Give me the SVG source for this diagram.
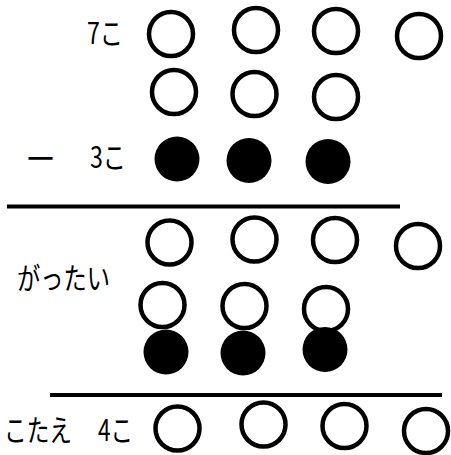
<svg xmlns="http://www.w3.org/2000/svg" width="451" height="455" viewBox="0 0 451 455">
<defs>
<style>
.o{fill:none;stroke:#000;stroke-width:4.5}
.f{fill:#000}
.t{font-family:"Noto Sans CJK JP","Liberation Sans",sans-serif;font-size:30px;fill:#000}
.rule{stroke:#000;stroke-width:4}
</style>
</defs>
<rect width="451" height="455" fill="#fff"/>
<g id="labels">
<text class="t" x="87" y="44" textLength="36" lengthAdjust="spacingAndGlyphs">7こ</text>
<text class="t" x="27" y="167" font-size="28" font-family="Liberation Sans" font-weight="bold" textLength="27" lengthAdjust="spacingAndGlyphs">—</text>
<text class="t" x="90" y="167.5" textLength="36" lengthAdjust="spacingAndGlyphs">3こ</text>
<text class="t" x="17" y="289" textLength="93" lengthAdjust="spacingAndGlyphs">がったい</text>
<text class="t" x="4" y="441" textLength="68" lengthAdjust="spacingAndGlyphs">こたえ</text>
<text class="t" x="98" y="441" textLength="35" lengthAdjust="spacingAndGlyphs">4こ</text>
</g>
<g id="row-7">
<circle class="o" cx="171" cy="34" r="22"/>
<circle class="o" cx="256" cy="30" r="22"/>
<circle class="o" cx="336" cy="31" r="22"/>
<circle class="o" cx="419" cy="36" r="22"/>
<circle class="o" cx="174" cy="92" r="22"/>
<circle class="o" cx="254.5" cy="94" r="22"/>
<circle class="o" cx="336" cy="97" r="22"/>
</g>
<g id="row-3">
<circle class="f" cx="177" cy="159" r="22.5"/>
<circle class="f" cx="249" cy="160.5" r="22.5"/>
<circle class="f" cx="328" cy="161.5" r="22.5"/>
</g>
<g id="rules">
<line class="rule" x1="7" y1="206.5" x2="400" y2="206.5"/>
<line class="rule" x1="50" y1="395" x2="442" y2="395"/>
</g>
<g id="combined">
<circle class="o" cx="169.5" cy="242.5" r="22"/>
<circle class="o" cx="254.5" cy="239.5" r="22"/>
<circle class="o" cx="335" cy="240" r="22"/>
<circle class="o" cx="418" cy="246" r="22"/>
<circle class="o" cx="162.5" cy="305" r="22"/>
<circle class="o" cx="244.5" cy="306" r="22"/>
<circle class="o" cx="326" cy="309" r="22"/>
<circle class="f" cx="166" cy="352" r="22.5"/>
<circle class="f" cx="243" cy="353" r="22.5"/>
<circle class="f" cx="325" cy="349.5" r="22.5"/>
</g>
<g id="answer">
<circle class="o" cx="177.5" cy="428.5" r="22"/>
<circle class="o" cx="263.5" cy="424.5" r="22"/>
<circle class="o" cx="344.5" cy="426" r="22"/>
<circle class="o" cx="426" cy="431" r="22"/>
</g>
</svg>
